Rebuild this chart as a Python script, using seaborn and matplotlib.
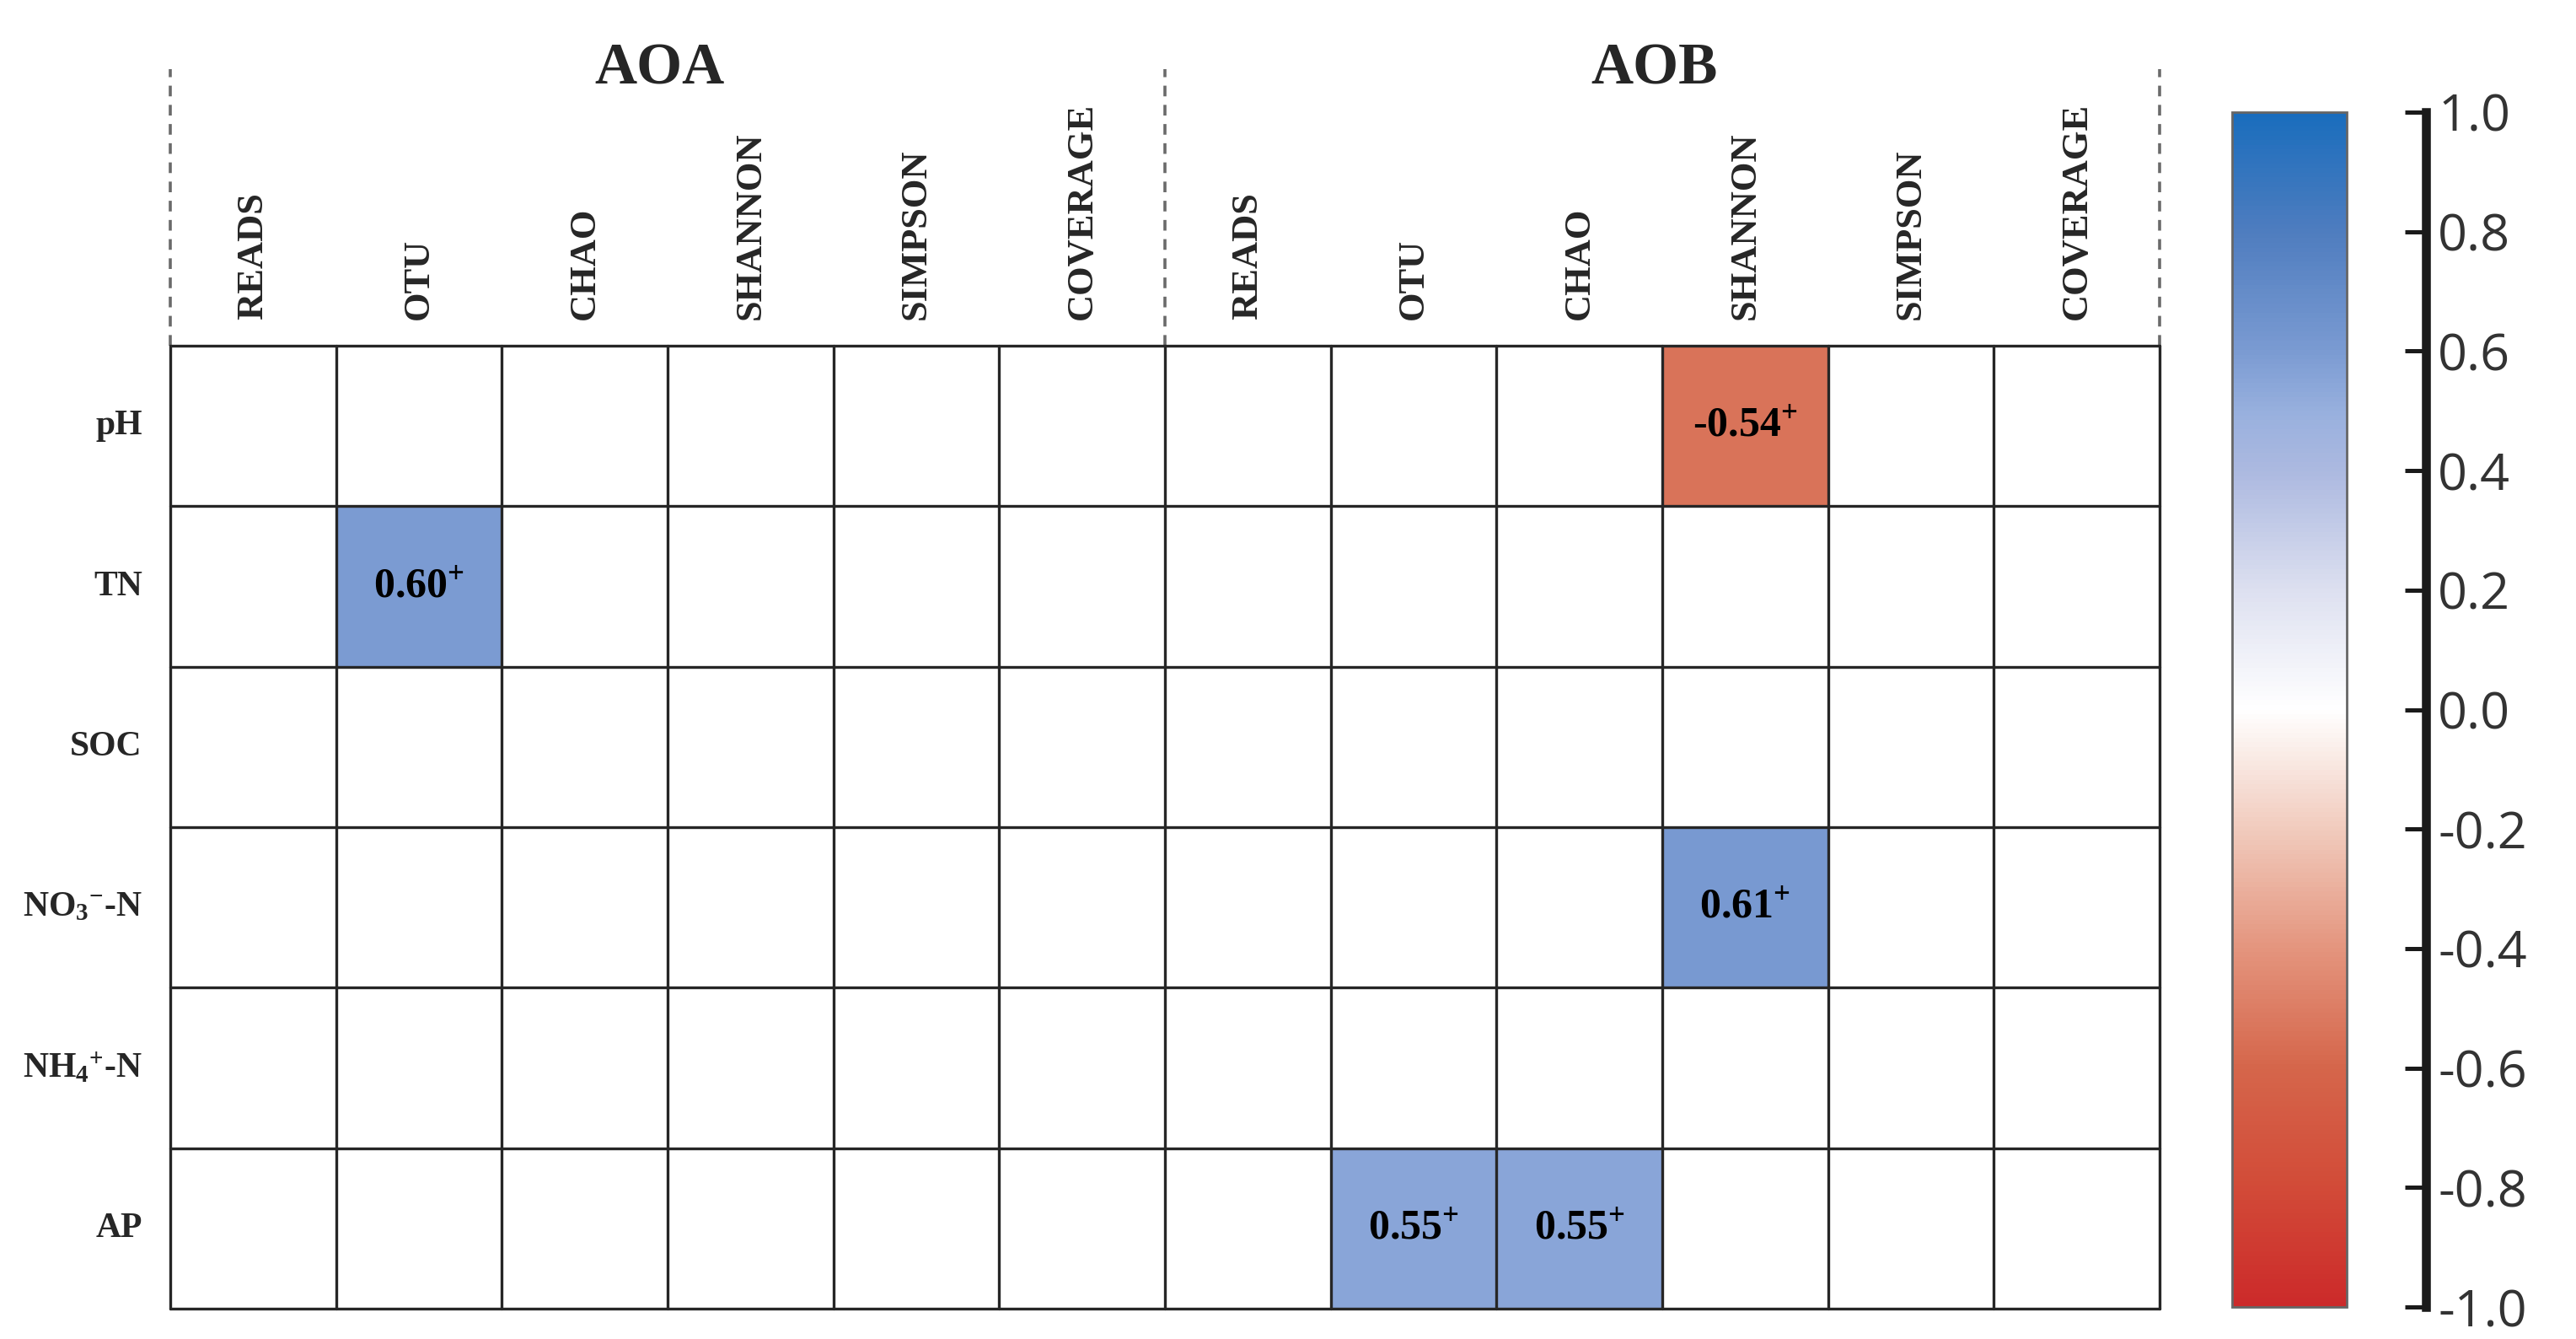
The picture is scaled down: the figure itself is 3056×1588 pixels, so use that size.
import numpy as np
import pandas as pd
import matplotlib
matplotlib.use("Agg")
import matplotlib.pyplot as plt
import seaborn as sns
from matplotlib.colors import LinearSegmentedColormap

nan = np.nan

# ---------------- data ----------------
groups = ["AOA", "AOB"]
indices = ["READS", "OTU", "CHAO", "SHANNON", "SIMPSON", "COVERAGE"]
row_labels = ["pH", "TN", "SOC", r"NO$_3{}^{-}$-N", r"NH$_4{}^{+}$-N", "AP"]

# significant correlation coefficients (blank = not significant)
aoa_r = [
    [nan, nan, nan, nan, nan, nan],   # pH
    [nan, 0.60, nan, nan, nan, nan],  # TN
    [nan, nan, nan, nan, nan, nan],   # SOC
    [nan, nan, nan, nan, nan, nan],   # NO3-N
    [nan, nan, nan, nan, nan, nan],   # NH4-N
    [nan, nan, nan, nan, nan, nan],   # AP
]
aob_r = [
    [nan, nan, nan, -0.54, nan, nan],  # pH
    [nan, nan, nan, nan, nan, nan],    # TN
    [nan, nan, nan, nan, nan, nan],    # SOC
    [nan, nan, nan, 0.61, nan, nan],   # NO3-N
    [nan, nan, nan, nan, nan, nan],    # NH4-N
    [nan, 0.55, 0.55, nan, nan, nan],  # AP
]
cbar_ticks = [1.0, 0.8, 0.6, 0.4, 0.2, 0.0, -0.2, -0.4, -0.6, -0.8, -1.0]

# colour scale anchors
cmap_vals = [-1.0, -0.8, -0.6, -0.4, -0.2, 0.0, 0.2, 0.4, 0.5, 0.6, 0.8, 1.0]
cmap_cols = ["#cc2a2a", "#d24b38", "#d5664b", "#e4957e", "#f1cbbd", "#ffffff",
             "#dde0f0", "#acb9e0", "#98b0de", "#7b9bd2", "#4f7dbf", "#1a6dbd"]

# ---------------- style ----------------
sns.set_style("white")
plt.rcParams["font.family"] = ["Liberation Serif", "DejaVu Serif"]
plt.rcParams["mathtext.default"] = "regular"

cmap = LinearSegmentedColormap.from_list(
    "rb", [((v + 1) / 2, c) for v, c in zip(cmap_vals, cmap_cols)])

data = np.hstack([np.array(aoa_r), np.array(aob_r)])
columns = indices * 2
annot = np.array([["" if np.isnan(v) else f"{v:.2f}$^{{+}}$" for v in row] for row in data])
df = pd.DataFrame(data, index=row_labels, columns=[f"{g}_{c}" for g in groups for c in indices])

W, H, DPI = 3056, 1588, 200
fig = plt.figure(figsize=(W / DPI, H / DPI), dpi=DPI)
gl, gr, gt, gb = 202, 2562, 410, 1552
ax = fig.add_axes([gl / W, 1 - gb / H, (gr - gl) / W, (gb - gt) / H])
cax = fig.add_axes([2648 / W, 1 - 1550 / H, (2784 - 2648) / W, (1550 - 133) / H])

sns.heatmap(df, ax=ax, cmap=cmap, vmin=-1, vmax=1, annot=annot, fmt="",
            annot_kws=dict(fontsize=18, fontweight="bold", color="black",
                           family="Liberation Serif"),
            cbar=True, cbar_ax=cax, xticklabels=columns, yticklabels=row_labels)

# grid
for i in range(len(row_labels) + 1):
    ax.axhline(i, color="#262626", lw=1.2, clip_on=False, zorder=5)
for j in range(len(columns) + 1):
    ax.axvline(j, color="#262626", lw=1.2, clip_on=False, zorder=5)

# tick labels
ax.xaxis.tick_top()
ax.set_xticklabels(columns, rotation=90, fontsize=16, fontweight="bold")
ax.set_yticklabels(row_labels, rotation=0, fontsize=15, fontweight="bold")
ax.tick_params(axis="x", length=0, pad=11)
ax.tick_params(axis="y", length=0, pad=12)
for s in ax.spines.values():
    s.set_visible(False)

# group separators and titles
ytop = 1 + (gt - 82) / (gb - gt)
trans = ax.get_xaxis_transform()
for x in [0, 6, 12]:
    ax.plot([x, x], [1.0, ytop], transform=trans, clip_on=False,
            color="#6a6a6a", lw=1.3, ls=(0, (3.5, 2.8)))
for k, g in enumerate(groups):
    ax.text(2.95 + 6 * k, ytop, g, transform=trans, ha="center", va="center",
            fontsize=25, fontweight="bold")

# colorbar styling
cbar = ax.collections[0].colorbar
cbar.set_ticks(cbar_ticks)
cbar.set_ticklabels([f"{t:.1f}" for t in cbar_ticks])
cbar.outline.set_edgecolor("#666666")
cbar.outline.set_linewidth(1.0)
cax.yaxis.set_ticks_position("right")
cax.spines["right"].set_visible(True)
cax.spines["right"].set_position(("outward", 34))
cax.spines["right"].set_linewidth(3.8)
cax.spines["right"].set_color("#1a1a1a")
cax.tick_params(axis="y", direction="in", length=9, width=1.8, color="#1a1a1a",
                labelsize=22, pad=5, labelcolor="#333333")
for lab in cax.get_yticklabels():
    lab.set_family("Open Sans")

fig.savefig("out.png", dpi=DPI, facecolor="white")
